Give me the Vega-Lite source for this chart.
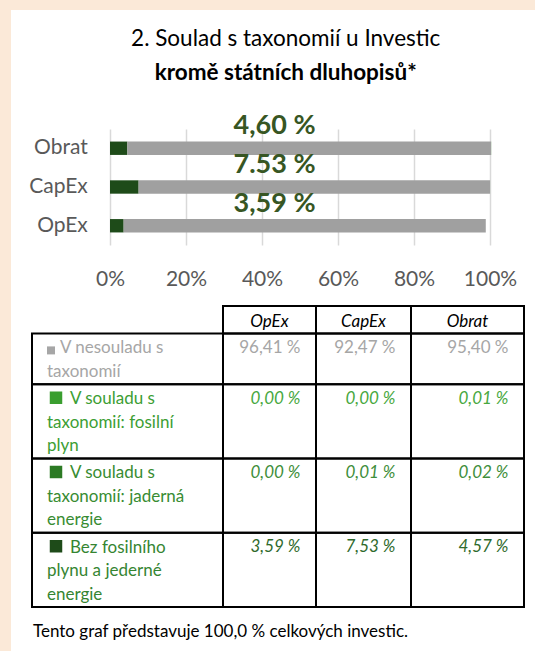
{
  "$schema": "https://vega.github.io/schema/vega-lite/v6.json",
  "background": "white",
  "padding": 0,
  "config": {"font": "Lato", "view": {"stroke": null}, "concat": {"spacing": 0}},
  "datasets": {
    "bars": [
      {"metric": "OpEx", "segment": "Bez fosilního plynu a jederné energie", "value": 3.59},
      {"metric": "OpEx", "segment": "V souladu s taxonomií: jaderná energie", "value": 0.0},
      {"metric": "OpEx", "segment": "V souladu s taxonomií: fosilní plyn", "value": 0.0},
      {"metric": "OpEx", "segment": "V nesouladu s taxonomií", "value": 95.3},
      {"metric": "CapEx", "segment": "Bez fosilního plynu a jederné energie", "value": 7.53},
      {"metric": "CapEx", "segment": "V souladu s taxonomií: jaderná energie", "value": 0.01},
      {"metric": "CapEx", "segment": "V souladu s taxonomií: fosilní plyn", "value": 0.0},
      {"metric": "CapEx", "segment": "V nesouladu s taxonomií", "value": 92.47},
      {"metric": "Obrat", "segment": "Bez fosilního plynu a jederné energie", "value": 4.57},
      {"metric": "Obrat", "segment": "V souladu s taxonomií: jaderná energie", "value": 0.02},
      {"metric": "Obrat", "segment": "V souladu s taxonomií: fosilní plyn", "value": 0.01},
      {"metric": "Obrat", "segment": "V nesouladu s taxonomií", "value": 95.7}
    ],
    "barLabels": [
      {"metric": "Obrat", "label": "4,60 %"},
      {"metric": "CapEx", "label": "7.53 %"},
      {"metric": "OpEx", "label": "3,59 %"}
    ],
    "table": [
      {"part": "záhlaví", "label": [], "OpEx": "OpEx", "CapEx": "CapEx", "Obrat": "Obrat"},
      {"part": "V nesouladu s taxonomií", "label": ["V nesouladu s", "taxonomií"], "OpEx": "96,41 %", "CapEx": "92,47 %", "Obrat": "95,40 %"},
      {"part": "V souladu s taxonomií: fosilní plyn", "label": ["V souladu s", "taxonomií: fosilní", "plyn"], "OpEx": "0,00 %", "CapEx": "0,00 %", "Obrat": "0,01 %"},
      {"part": "V souladu s taxonomií: jaderná energie", "label": ["V souladu s", "taxonomií: jaderná", "energie"], "OpEx": "0,00 %", "CapEx": "0,01 %", "Obrat": "0,02 %"},
      {"part": "Bez fosilního plynu a jederné energie", "label": ["Bez fosilního", "plynu a jederné", "energie"], "OpEx": "3,59 %", "CapEx": "7,53 %", "Obrat": "4,57 %"}
    ]
  },
  "spacing": 0,
  "vconcat": [
    {"width": 535, "height": 10, "view": {"fill": "#FBE9D8", "stroke": null}, "data": {"values": []}, "mark": "point"},
    {
      "spacing": 0,
      "hconcat": [
        {"width": 11, "height": 641, "view": {"fill": "#FBE9D8", "stroke": null}, "data": {"values": []}, "mark": "point"},
        {
          "spacing": 0,
          "vconcat": [
            {"width": 10, "height": 17, "data": {"values": []}, "mark": "point"},
            {
              "spacing": 0,
              "hconcat": [
                {"width": 17, "height": 1, "data": {"values": []}, "mark": "point"},
                {
                  "width": 380,
                  "height": 116,
                  "title": {
                    "text": "2. Soulad s taxonomií u Investic",
                    "subtitle": "kromě státních dluhopisů*",
                    "fontSize": 22.5,
                    "fontWeight": "normal",
                    "color": "#000000",
                    "subtitleFontSize": 22.5,
                    "subtitleFontWeight": "bold",
                    "subtitleColor": "#000000",
                    "subtitleFont": "Lato",
                    "subtitlePadding": 11.5,
                    "offset": 28,
                    "anchor": "middle",
                    "frame": "bounds",
                    "dx": 13
                  },
                  "layer": [
                    {
                      "data": {"name": "bars"},
                      "mark": {"type": "bar"},
                      "encoding": {
                        "y": {
                          "field": "metric", "type": "nominal", "sort": ["Obrat", "CapEx", "OpEx"],
                          "scale": {"paddingInner": 0.655, "paddingOuter": 0.324},
                          "axis": {"title": null, "domain": false, "ticks": false, "labelPadding": 22.7, "labelFontSize": 21, "labelColor": "#595959"}
                        },
                        "x": {
                          "field": "value", "type": "quantitative", "stack": "zero",
                          "scale": {"domain": [0, 100], "nice": false},
                          "axis": {"title": null, "values": [0, 20, 40, 60, 80, 100], "labelExpr": "datum.value + '%'", "labelFlush": false, "labelOverlap": false, "grid": true, "gridColor": "#D9D9D9", "gridWidth": 1.5, "domain": false, "ticks": false, "labelPadding": 23.5, "labelFontSize": 21, "labelColor": "#595959"}
                        },
                        "color": {
                          "field": "segment", "type": "nominal",
                          "scale": {
                            "domain": ["Bez fosilního plynu a jederné energie", "V souladu s taxonomií: jaderná energie", "V souladu s taxonomií: fosilní plyn", "V nesouladu s taxonomií"],
                            "range": ["#1E4B19", "#2C7A24", "#3A9E2F", "#A0A0A0"]
                          },
                          "legend": null
                        },
                        "order": {"field": "segment", "sort": "ascending"}
                      }
                    },
                    {
                      "data": {"name": "barLabels"},
                      "mark": {"type": "text", "fontSize": 27, "fontWeight": "bold", "color": "#375623", "baseline": "middle", "align": "center", "dy": -22},
                      "encoding": {
                        "y": {"field": "metric", "type": "nominal", "sort": ["Obrat", "CapEx", "OpEx"]},
                        "x": {"datum": 43.3, "type": "quantitative"},
                        "text": {"field": "label"}
                      }
                    }
                  ]
                }
              ]
            },
            {"width": 10, "height": 14.5, "data": {"values": []}, "mark": "point"},
            {
              "spacing": 0,
              "hconcat": [
                {"width": 19.7, "height": 1, "data": {"values": []}, "mark": "point"},
                {
                  "data": {"name": "table"},
                  "transform": [
                    {"calculate": "max(1, length(datum.label))", "as": "lines"},
                    {"calculate": "datum.lines + 0.17", "as": "h"},
                    {"window": [{"op": "sum", "field": "h", "as": "bottom"}], "frame": [null, 0]},
                    {"calculate": "datum.bottom - datum.h", "as": "top"},
                    {"calculate": "datum.label[0]", "as": "first"},
                    {"calculate": "slice(datum.label, 1)", "as": "rest"}
                  ],
                  "bounds": "flush",
                  "spacing": 0,
                  "resolve": {"scale": {"x": "independent", "y": "independent", "color": "independent", "fill": "independent"}},
                  "title": {
                    "text": "Tento graf představuje 100,0 % celkových investic.",
                    "orient": "bottom",
                    "anchor": "start",
                    "fontSize": 17,
                    "fontWeight": "normal",
                    "color": "#000000",
                    "offset": 16,
                    "dx": 2
                  },
                  "hconcat": [
                    {
                      "width": 191,
                      "height": 301,
                      "transform": [{"filter": "datum.part != 'záhlaví'"}],
                      "encoding": {
                        "y": {"field": "top", "type": "quantitative", "scale": {"nice": false, "reverse": true, "zero": true}, "axis": null}
                      },
                      "layer": [
                        {
                          "mark": {"type": "rect", "filled": false, "color": "#000000", "strokeWidth": 2},
                          "encoding": {"y2": {"field": "bottom"}}
                        },
                        {
                          "transform": [{"filter": "datum.part != 'V nesouladu s taxonomií'"}],
                          "mark": {"type": "point", "shape": "square", "filled": true, "size": 156, "opacity": 1, "strokeWidth": 0, "xOffset": 24, "yOffset": 13.5},
                          "encoding": {
                            "x": {"datum": 0, "type": "quantitative", "scale": {"domain": [0, 1]}, "axis": null},
                            "fill": {
                              "field": "part", "type": "nominal",
                              "scale": {"domain": ["V souladu s taxonomií: fosilní plyn", "V souladu s taxonomií: jaderná energie", "Bez fosilního plynu a jederné energie"], "range": ["#3A9E2F", "#2C7A24", "#1E4B19"]},
                              "legend": null
                            }
                          }
                        },
                        {
                          "transform": [{"filter": "datum.part == 'V nesouladu s taxonomií'"}],
                          "mark": {"type": "point", "shape": "square", "filled": true, "size": 64, "opacity": 1, "strokeWidth": 0, "color": "#A6A6A6", "xOffset": 19, "yOffset": 17},
                          "encoding": {
                            "x": {"datum": 0, "type": "quantitative", "scale": {"domain": [0, 1]}, "axis": null}
                          }
                        },
                        {
                          "transform": [{"filter": "datum.part != 'V nesouladu s taxonomií'"}],
                          "mark": {"type": "text", "align": "left", "baseline": "alphabetic", "dx": 38, "dy": 20, "fontSize": 17},
                          "encoding": {
                            "x": {"datum": 0, "type": "quantitative", "scale": {"domain": [0, 1]}, "axis": null},
                            "text": {"field": "first"},
                            "color": {
                              "field": "part", "type": "nominal",
                              "scale": {"domain": ["V nesouladu s taxonomií", "V souladu s taxonomií: fosilní plyn", "V souladu s taxonomií: jaderná energie", "Bez fosilního plynu a jederné energie"], "range": ["#A6A6A6", "#3C9E34", "#388C32", "#358532"]},
                              "legend": null
                            }
                          }
                        },
                        {
                          "transform": [{"filter": "datum.part == 'V nesouladu s taxonomií'"}],
                          "mark": {"type": "text", "align": "left", "baseline": "alphabetic", "dx": 28, "dy": 20, "fontSize": 17, "color": "#A6A6A6"},
                          "encoding": {
                            "x": {"datum": 0, "type": "quantitative", "scale": {"domain": [0, 1]}, "axis": null},
                            "text": {"field": "first"}
                          }
                        },
                        {
                          "mark": {"type": "text", "align": "left", "baseline": "alphabetic", "dx": 15, "dy": 43.4, "lineHeight": 23.4, "fontSize": 17},
                          "encoding": {
                            "x": {"datum": 0, "type": "quantitative", "scale": {"domain": [0, 1]}, "axis": null},
                            "text": {"field": "rest"},
                            "color": {
                              "field": "part", "type": "nominal",
                              "scale": {"domain": ["V nesouladu s taxonomií", "V souladu s taxonomií: fosilní plyn", "V souladu s taxonomií: jaderná energie", "Bez fosilního plynu a jederné energie"], "range": ["#A6A6A6", "#3C9E34", "#388C32", "#358532"]},
                              "legend": null
                            }
                          }
                        }
                      ]
                    },
                    {
                      "width": 93,
                      "height": 301,
                      "encoding": {
                        "y": {"field": "top", "type": "quantitative", "scale": {"nice": false, "reverse": true, "zero": true}, "axis": null}
                      },
                      "layer": [
                        {"mark": {"type": "rect", "filled": false, "color": "#000000", "strokeWidth": 2}, "encoding": {"y2": {"field": "bottom"}}},
                        {
                          "transform": [{"filter": "datum.part == 'záhlaví'"}],
                          "mark": {"type": "text", "align": "center", "baseline": "alphabetic", "dy": 21, "fontSize": 17, "fontStyle": "italic", "color": "#000000"},
                          "encoding": {"x": {"datum": 0.5, "type": "quantitative", "scale": {"domain": [0, 1]}, "axis": null}, "text": {"field": "OpEx"}}
                        },
                        {
                          "transform": [{"filter": "datum.part == 'V nesouladu s taxonomií'"}],
                          "mark": {"type": "text", "align": "right", "baseline": "alphabetic", "dx": -15.5, "dy": 19.5, "fontSize": 17, "color": "#A6A6A6"},
                          "encoding": {"x": {"datum": 1, "type": "quantitative", "scale": {"domain": [0, 1]}, "axis": null}, "text": {"field": "OpEx"}}
                        },
                        {
                          "transform": [{"filter": "datum.part != 'záhlaví' && datum.part != 'V nesouladu s taxonomií'"}],
                          "mark": {"type": "text", "align": "right", "baseline": "alphabetic", "dx": -15.5, "dy": 19.5, "fontSize": 17, "fontStyle": "italic"},
                          "encoding": {
                            "x": {"datum": 1, "type": "quantitative", "scale": {"domain": [0, 1]}, "axis": null},
                            "text": {"field": "OpEx"},
                            "color": {"field": "part", "type": "nominal", "scale": {"domain": ["V souladu s taxonomií: fosilní plyn", "V souladu s taxonomií: jaderná energie", "Bez fosilního plynu a jederné energie"], "range": ["#47A83E", "#3E8E3A", "#2F6A2D"]}, "legend": null}
                          }
                        }
                      ]
                    },
                    {
                      "width": 95,
                      "height": 301,
                      "encoding": {
                        "y": {"field": "top", "type": "quantitative", "scale": {"nice": false, "reverse": true, "zero": true}, "axis": null}
                      },
                      "layer": [
                        {"mark": {"type": "rect", "filled": false, "color": "#000000", "strokeWidth": 2}, "encoding": {"y2": {"field": "bottom"}}},
                        {
                          "transform": [{"filter": "datum.part == 'záhlaví'"}],
                          "mark": {"type": "text", "align": "center", "baseline": "alphabetic", "dy": 21, "fontSize": 17, "fontStyle": "italic", "color": "#000000"},
                          "encoding": {"x": {"datum": 0.5, "type": "quantitative", "scale": {"domain": [0, 1]}, "axis": null}, "text": {"field": "CapEx"}}
                        },
                        {
                          "transform": [{"filter": "datum.part == 'V nesouladu s taxonomií'"}],
                          "mark": {"type": "text", "align": "right", "baseline": "alphabetic", "dx": -15.5, "dy": 19.5, "fontSize": 17, "color": "#A6A6A6"},
                          "encoding": {"x": {"datum": 1, "type": "quantitative", "scale": {"domain": [0, 1]}, "axis": null}, "text": {"field": "CapEx"}}
                        },
                        {
                          "transform": [{"filter": "datum.part != 'záhlaví' && datum.part != 'V nesouladu s taxonomií'"}],
                          "mark": {"type": "text", "align": "right", "baseline": "alphabetic", "dx": -15.5, "dy": 19.5, "fontSize": 17, "fontStyle": "italic"},
                          "encoding": {
                            "x": {"datum": 1, "type": "quantitative", "scale": {"domain": [0, 1]}, "axis": null},
                            "text": {"field": "CapEx"},
                            "color": {"field": "part", "type": "nominal", "scale": {"domain": ["V souladu s taxonomií: fosilní plyn", "V souladu s taxonomií: jaderná energie", "Bez fosilního plynu a jederné energie"], "range": ["#47A83E", "#3E8E3A", "#2F6A2D"]}, "legend": null}
                          }
                        }
                      ]
                    },
                    {
                      "width": 113,
                      "height": 301,
                      "encoding": {
                        "y": {"field": "top", "type": "quantitative", "scale": {"nice": false, "reverse": true, "zero": true}, "axis": null}
                      },
                      "layer": [
                        {"mark": {"type": "rect", "filled": false, "color": "#000000", "strokeWidth": 2}, "encoding": {"y2": {"field": "bottom"}}},
                        {
                          "transform": [{"filter": "datum.part == 'záhlaví'"}],
                          "mark": {"type": "text", "align": "center", "baseline": "alphabetic", "dy": 21, "fontSize": 17, "fontStyle": "italic", "color": "#000000"},
                          "encoding": {"x": {"datum": 0.5, "type": "quantitative", "scale": {"domain": [0, 1]}, "axis": null}, "text": {"field": "Obrat"}}
                        },
                        {
                          "transform": [{"filter": "datum.part == 'V nesouladu s taxonomií'"}],
                          "mark": {"type": "text", "align": "right", "baseline": "alphabetic", "dx": -15.5, "dy": 19.5, "fontSize": 17, "color": "#A6A6A6"},
                          "encoding": {"x": {"datum": 1, "type": "quantitative", "scale": {"domain": [0, 1]}, "axis": null}, "text": {"field": "Obrat"}}
                        },
                        {
                          "transform": [{"filter": "datum.part != 'záhlaví' && datum.part != 'V nesouladu s taxonomií'"}],
                          "mark": {"type": "text", "align": "right", "baseline": "alphabetic", "dx": -15.5, "dy": 19.5, "fontSize": 17, "fontStyle": "italic"},
                          "encoding": {
                            "x": {"datum": 1, "type": "quantitative", "scale": {"domain": [0, 1]}, "axis": null},
                            "text": {"field": "Obrat"},
                            "color": {"field": "part", "type": "nominal", "scale": {"domain": ["V souladu s taxonomií: fosilní plyn", "V souladu s taxonomií: jaderná energie", "Bez fosilního plynu a jederné energie"], "range": ["#47A83E", "#3E8E3A", "#2F6A2D"]}, "legend": null}
                          }
                        }
                      ]
                    }
                  ]
                }
              ]
            }
          ]
        }
      ]
    }
  ]
}
